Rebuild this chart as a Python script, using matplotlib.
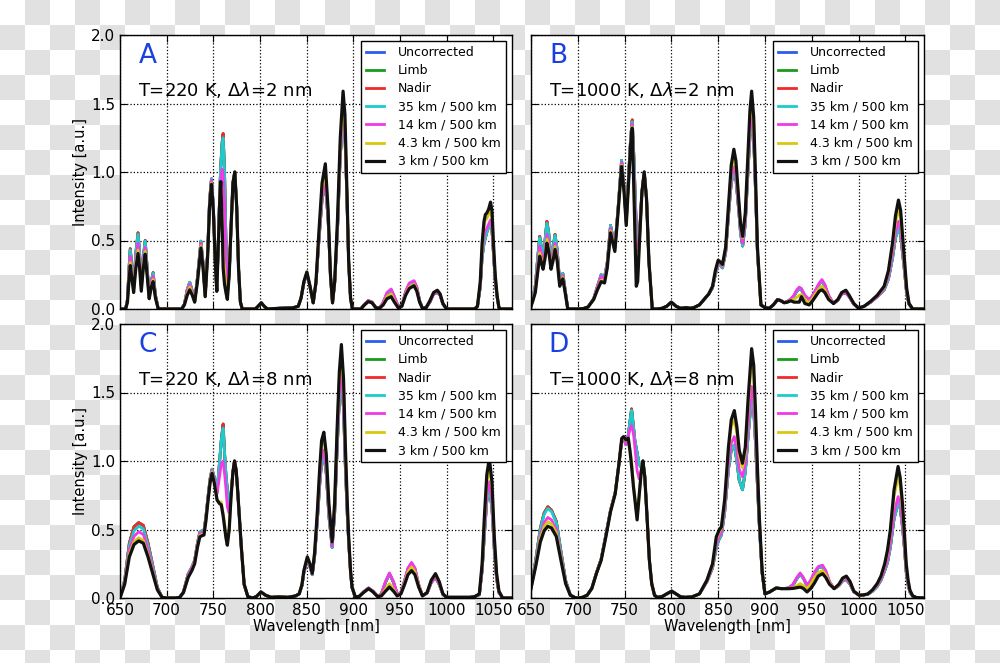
import numpy as np
import matplotlib
matplotlib.use("Agg")
import matplotlib.pyplot as plt

# ---------------- panel A : T=220 K, dl=2 nm ----------------
wl_a = [650, 656, 658, 659.5, 661, 662.8, 664.6, 667, 669.3, 671, 672.8, 675, 677, 679, 681.3, 683.5, 685.5, 688, 691,
        716, 719, 722, 724.7, 727.5, 730, 733, 736.7, 739, 741.3, 744, 746, 748, 750, 752, 753.7, 755.5, 757, 758,
        759.5, 760.5, 762, 763.5, 765, 767, 769, 771, 773, 775, 777, 779, 781,
        795, 798, 801.4, 804.5, 808, 820, 835,
        841, 844, 847, 850.2, 853.5, 857, 860, 863, 866.5, 870, 873, 875.5, 877.7, 880, 883, 886, 889, 891, 893, 895, 897, 899,
        908, 912, 916, 920, 924, 928, 932, 936, 940.5, 944, 948, 952, 956, 960, 965, 968, 971, 974, 978, 982, 986, 990, 993, 996, 1000,
        1030, 1033, 1036, 1038, 1040, 1041.5, 1043, 1045, 1047, 1048.5, 1050, 1052, 1054, 1056, 1058, 1070]
km3_a = [0, 0, 0.05, 0.2, 0.317, 0.22, 0.12, 0.3, 0.405, 0.3, 0.13, 0.3, 0.40, 0.25, 0.075, 0.16, 0.20, 0.08, 0,
         0, 0.03, 0.1, 0.14, 0.1, 0.05, 0.2, 0.445, 0.3, 0.09, 0.4, 0.75, 0.91, 0.72, 0.35, 0.13, 0.5, 0.82, 0.93,
         0.6, 0.3, 0.18, 0.12, 0.07, 0.25, 0.6, 0.92, 1.0, 0.75, 0.3, 0.05, 0,
         0, 0.02, 0.045, 0.02, 0, 0.005, 0.008,
         0.02, 0.08, 0.2, 0.27, 0.17, 0.045, 0.2, 0.55, 0.92, 1.06, 0.72, 0.25, 0.045, 0.2, 0.65, 1.25, 1.59, 1.42, 0.9, 0.35, 0.08, 0,
         0, 0.03, 0.054, 0.045, 0.01, 0.005, 0.03, 0.075, 0.09, 0.05, 0.01, 0.02, 0.1, 0.15, 0.17, 0.13, 0.05, 0.005, 0.01, 0.06, 0.12, 0.137, 0.11, 0.04, 0,
         0, 0.02, 0.2, 0.48, 0.64, 0.69, 0.7, 0.73, 0.78, 0.72, 0.5, 0.25, 0.1, 0.01, 0, 0]
km43_a = [0, 0, 0.05, 0.22, 0.34, 0.24, 0.13, 0.33, 0.43, 0.33, 0.14, 0.32, 0.42, 0.26, 0.08, 0.17, 0.215, 0.085, 0,
          0, 0.03, 0.11, 0.16, 0.11, 0.05, 0.21, 0.46, 0.31, 0.09, 0.41, 0.76, 0.92, 0.73, 0.35, 0.13, 0.5, 0.83, 0.92,
          0.6, 0.4, 0.28, 0.15, 0.08, 0.25, 0.6, 0.92, 1.0, 0.75, 0.3, 0.05, 0,
          0, 0.02, 0.045, 0.02, 0, 0.005, 0.008,
          0.02, 0.08, 0.2, 0.27, 0.17, 0.045, 0.2, 0.53, 0.88, 1.0, 0.7, 0.25, 0.045, 0.2, 0.62, 1.2, 1.5, 1.36, 0.88, 0.35, 0.08, 0,
          0, 0.03, 0.056, 0.045, 0.01, 0.005, 0.035, 0.09, 0.11, 0.06, 0.012, 0.02, 0.11, 0.16, 0.18, 0.14, 0.05, 0.005, 0.01, 0.06, 0.12, 0.135, 0.11, 0.04, 0,
          0, 0.02, 0.19, 0.45, 0.6, 0.65, 0.66, 0.69, 0.72, 0.67, 0.47, 0.24, 0.1, 0.01, 0, 0]
km14_a = [0, 0, 0.06, 0.25, 0.385, 0.27, 0.14, 0.36, 0.48, 0.36, 0.15, 0.35, 0.45, 0.28, 0.08, 0.19, 0.24, 0.095, 0,
          0, 0.035, 0.13, 0.18, 0.12, 0.055, 0.22, 0.48, 0.32, 0.095, 0.42, 0.78, 0.94, 0.74, 0.36, 0.13, 0.52, 0.85, 0.95,
          1.02, 0.98, 0.75, 0.4, 0.12, 0.25, 0.6, 0.92, 1.0, 0.75, 0.3, 0.05, 0,
          0, 0.02, 0.045, 0.02, 0, 0.005, 0.008,
          0.02, 0.08, 0.19, 0.26, 0.165, 0.045, 0.19, 0.5, 0.82, 0.93, 0.66, 0.24, 0.045, 0.19, 0.58, 1.15, 1.42, 1.3, 0.85, 0.34, 0.08, 0,
          0, 0.035, 0.063, 0.05, 0.012, 0.006, 0.05, 0.12, 0.146, 0.09, 0.02, 0.025, 0.13, 0.19, 0.207, 0.16, 0.06, 0.006, 0.01, 0.05, 0.11, 0.122, 0.1, 0.035, 0,
          0, 0.02, 0.17, 0.41, 0.53, 0.57, 0.59, 0.62, 0.65, 0.6, 0.43, 0.22, 0.09, 0.01, 0, 0]
km35_a = [0, 0, 0.07, 0.28, 0.43, 0.3, 0.16, 0.41, 0.545, 0.41, 0.17, 0.38, 0.495, 0.31, 0.09, 0.2, 0.26, 0.1, 0,
          0, 0.035, 0.14, 0.195, 0.13, 0.055, 0.23, 0.495, 0.33, 0.095, 0.43, 0.8, 0.95, 0.75, 0.36, 0.13, 0.53, 0.88, 1.05,
          1.2, 1.25, 1.0, 0.5, 0.12, 0.25, 0.6, 0.92, 1.0, 0.75, 0.3, 0.05, 0,
          0, 0.02, 0.045, 0.02, 0, 0.005, 0.008,
          0.02, 0.08, 0.19, 0.26, 0.165, 0.045, 0.19, 0.49, 0.8, 0.92, 0.65, 0.24, 0.045, 0.19, 0.57, 1.12, 1.38, 1.27, 0.84, 0.34, 0.08, 0,
          0, 0.035, 0.06, 0.05, 0.012, 0.006, 0.045, 0.11, 0.14, 0.085, 0.02, 0.025, 0.12, 0.18, 0.2, 0.155, 0.06, 0.006, 0.01, 0.05, 0.11, 0.12, 0.1, 0.035, 0,
          0, 0.02, 0.16, 0.38, 0.48, 0.52, 0.56, 0.6, 0.62, 0.58, 0.42, 0.21, 0.09, 0.01, 0, 0]
nadir_a = [0, 0, 0.07, 0.28, 0.44, 0.3, 0.16, 0.41, 0.556, 0.41, 0.17, 0.38, 0.5, 0.31, 0.09, 0.2, 0.265, 0.1, 0,
           0, 0.035, 0.14, 0.195, 0.13, 0.055, 0.23, 0.495, 0.33, 0.095, 0.43, 0.8, 0.95, 0.75, 0.36, 0.13, 0.53, 0.88, 1.05,
           1.22, 1.28, 1.0, 0.5, 0.12, 0.25, 0.6, 0.92, 1.0, 0.75, 0.3, 0.05, 0,
           0, 0.02, 0.045, 0.02, 0, 0.005, 0.008,
           0.02, 0.08, 0.19, 0.26, 0.165, 0.045, 0.19, 0.49, 0.8, 0.92, 0.65, 0.24, 0.045, 0.19, 0.57, 1.12, 1.38, 1.27, 0.84, 0.34, 0.08, 0,
           0, 0.035, 0.06, 0.05, 0.012, 0.006, 0.045, 0.11, 0.14, 0.085, 0.02, 0.025, 0.12, 0.18, 0.2, 0.155, 0.06, 0.006, 0.01, 0.05, 0.11, 0.12, 0.1, 0.035, 0,
           0, 0.02, 0.16, 0.38, 0.48, 0.52, 0.56, 0.6, 0.62, 0.58, 0.42, 0.21, 0.09, 0.01, 0, 0]

# ---------------- panel B : T=1000 K, dl=2 nm ----------------
wl_b = [650, 652, 654.6, 657, 659.3, 661, 662.9, 665, 667, 669, 671.4, 673.5, 675.7, 678, 680.7, 684, 686.5, 689.3,
        700, 706, 711, 717, 721, 725, 728.6, 731.5, 735, 739.6, 743, 746.8, 749.5, 751.8, 754.5, 756.5, 758.2, 760,
        762.5, 764, 766, 768.5, 771, 773.5, 776, 779.6,
        785, 790, 795, 800, 805, 810, 816, 820,
        824, 830, 835, 840, 844, 847, 850, 852, 854.6, 858, 861, 864, 866.8, 869, 872, 874, 876.2, 879, 882, 884, 885.8, 888, 890, 892, 895.7, 900,
        904.6, 909, 913.5, 917, 920.6, 924, 927.8, 931, 934, 936.7, 939, 942.7, 947.3, 951, 955, 958, 960.9, 964, 968, 973.3, 978, 982, 986.5, 990, 995, 1000,
        1006, 1013, 1020, 1027.4, 1032, 1036.3, 1039.5, 1042.7, 1045, 1048.8, 1051.5, 1054, 1058, 1070]
km3_b = [0.02, 0.06, 0.12, 0.26, 0.385, 0.34, 0.29, 0.37, 0.48, 0.42, 0.29, 0.35, 0.435, 0.35, 0.166, 0.22, 0.12, 0,
         0, 0.003, 0.015, 0.07, 0.14, 0.2, 0.19, 0.3, 0.556, 0.42, 0.7, 1.04, 0.85, 0.61, 0.95, 1.2, 1.32, 0.85,
         0.166, 0.2, 0.5, 0.85, 1.0, 0.8, 0.35, 0,
         0, 0.005, 0.02, 0.05, 0.02, 0.005, 0.01, 0.005,
         0.01, 0.03, 0.07, 0.11, 0.166, 0.28, 0.356, 0.345, 0.325, 0.45, 0.75, 1.05, 1.166, 1.08, 0.8, 0.62, 0.53, 0.7, 1.15, 1.45, 1.59, 1.4, 0.95, 0.45, 0.03, 0.01,
         0.005, 0.03, 0.068, 0.06, 0.045, 0.05, 0.06, 0.05, 0.05, 0.05, 0.09, 0.04, 0.03, 0.06, 0.1, 0.13, 0.14, 0.12, 0.07, 0.04, 0.07, 0.12, 0.137, 0.1, 0.04, 0.007,
         0.02, 0.056, 0.1, 0.166, 0.28, 0.48, 0.68, 0.795, 0.72, 0.385, 0.15, 0.04, 0, 0]
km43_b = [0.02, 0.06, 0.13, 0.28, 0.41, 0.36, 0.31, 0.39, 0.51, 0.45, 0.31, 0.37, 0.455, 0.37, 0.175, 0.23, 0.125, 0,
          0, 0.003, 0.015, 0.07, 0.145, 0.21, 0.2, 0.31, 0.57, 0.43, 0.71, 1.05, 0.86, 0.62, 0.96, 1.21, 1.33, 0.9,
          0.25, 0.25, 0.5, 0.85, 1.0, 0.8, 0.35, 0,
          0, 0.005, 0.02, 0.05, 0.02, 0.005, 0.01, 0.005,
          0.01, 0.03, 0.07, 0.11, 0.165, 0.27, 0.35, 0.34, 0.32, 0.44, 0.73, 1.01, 1.12, 1.04, 0.78, 0.61, 0.52, 0.68, 1.1, 1.39, 1.52, 1.35, 0.92, 0.44, 0.03, 0.01,
          0.005, 0.03, 0.068, 0.06, 0.045, 0.05, 0.065, 0.07, 0.085, 0.1, 0.105, 0.07, 0.045, 0.08, 0.12, 0.15, 0.165, 0.14, 0.08, 0.04, 0.07, 0.12, 0.135, 0.1, 0.04, 0.007,
          0.02, 0.055, 0.1, 0.16, 0.27, 0.45, 0.63, 0.727, 0.66, 0.36, 0.14, 0.04, 0, 0]
km14_b = [0.02, 0.07, 0.15, 0.32, 0.46, 0.4, 0.33, 0.43, 0.545, 0.49, 0.33, 0.4, 0.48, 0.4, 0.18, 0.245, 0.13, 0,
          0, 0.003, 0.015, 0.075, 0.16, 0.24, 0.22, 0.33, 0.59, 0.44, 0.72, 1.07, 0.87, 0.63, 0.98, 1.23, 1.35, 1.0,
          0.5, 0.42, 0.52, 0.85, 1.0, 0.8, 0.35, 0,
          0, 0.005, 0.02, 0.05, 0.02, 0.005, 0.01, 0.005,
          0.01, 0.03, 0.07, 0.11, 0.16, 0.26, 0.33, 0.33, 0.31, 0.42, 0.7, 0.95, 1.04, 0.98, 0.74, 0.58, 0.48, 0.64, 1.05, 1.3, 1.42, 1.27, 0.87, 0.42, 0.03, 0.01,
          0.005, 0.03, 0.07, 0.062, 0.047, 0.055, 0.075, 0.1, 0.14, 0.16, 0.15, 0.1, 0.07, 0.1, 0.15, 0.19, 0.215, 0.18, 0.1, 0.04, 0.065, 0.11, 0.117, 0.09, 0.035, 0.007,
          0.02, 0.05, 0.09, 0.15, 0.24, 0.4, 0.56, 0.64, 0.58, 0.32, 0.12, 0.035, 0, 0]
km35_b = [0.02, 0.08, 0.17, 0.36, 0.52, 0.45, 0.36, 0.5, 0.625, 0.55, 0.36, 0.44, 0.537, 0.43, 0.19, 0.26, 0.14, 0,
          0, 0.003, 0.015, 0.075, 0.165, 0.25, 0.23, 0.34, 0.61, 0.45, 0.73, 1.085, 0.88, 0.64, 1.0, 1.25, 1.366, 1.1,
          0.6, 0.45, 0.55, 0.85, 1.0, 0.8, 0.35, 0,
          0, 0.005, 0.02, 0.05, 0.02, 0.005, 0.01, 0.005,
          0.01, 0.03, 0.07, 0.11, 0.155, 0.25, 0.32, 0.32, 0.3, 0.41, 0.68, 0.92, 1.0, 0.95, 0.72, 0.55, 0.46, 0.62, 1.02, 1.26, 1.38, 1.24, 0.85, 0.41, 0.03, 0.01,
          0.005, 0.03, 0.07, 0.062, 0.047, 0.055, 0.072, 0.095, 0.13, 0.15, 0.14, 0.095, 0.065, 0.095, 0.145, 0.18, 0.205, 0.17, 0.095, 0.04, 0.065, 0.11, 0.117, 0.09, 0.035, 0.007,
          0.02, 0.05, 0.09, 0.14, 0.22, 0.37, 0.52, 0.59, 0.54, 0.3, 0.11, 0.035, 0, 0]
nadir_b = [0.02, 0.08, 0.17, 0.36, 0.53, 0.45, 0.36, 0.5, 0.64, 0.55, 0.36, 0.44, 0.545, 0.43, 0.19, 0.26, 0.14, 0,
           0, 0.003, 0.015, 0.075, 0.165, 0.25, 0.23, 0.34, 0.61, 0.45, 0.73, 1.085, 0.88, 0.64, 1.0, 1.25, 1.38, 1.1,
           0.6, 0.45, 0.55, 0.85, 1.0, 0.8, 0.35, 0,
           0, 0.005, 0.02, 0.05, 0.02, 0.005, 0.01, 0.005,
           0.01, 0.03, 0.07, 0.11, 0.155, 0.25, 0.32, 0.32, 0.3, 0.41, 0.68, 0.92, 1.0, 0.95, 0.72, 0.55, 0.46, 0.62, 1.02, 1.26, 1.38, 1.24, 0.85, 0.41, 0.03, 0.01,
           0.005, 0.03, 0.07, 0.062, 0.047, 0.055, 0.072, 0.095, 0.13, 0.15, 0.14, 0.095, 0.065, 0.095, 0.145, 0.18, 0.205, 0.17, 0.095, 0.04, 0.065, 0.11, 0.117, 0.09, 0.035, 0.007,
           0.02, 0.05, 0.09, 0.14, 0.22, 0.37, 0.52, 0.59, 0.54, 0.3, 0.11, 0.035, 0, 0]

# ---------------- panel C : T=220 K, dl=8 nm ----------------
wl_c = [650, 655, 660, 665, 670, 675, 680, 685, 690, 695, 700,
        710, 714, 718, 723, 727, 730, 733, 735.5, 738, 740, 742, 744, 746.5, 748.6, 751, 754, 756.5, 758.5, 760.5, 762,
        763.5, 765, 767, 769, 771, 772.7, 774.5, 776, 778, 780, 783, 787, 792,
        796, 801, 806, 812, 820, 830, 838,
        842, 845, 847, 850.7, 853.5, 856, 858.5, 861.3, 864, 866, 868.4, 871, 873.8, 877.3, 880, 882.6, 885, 887.2, 889.5, 891.5, 893.5, 895, 897, 898.6, 902,
        906, 911, 916.3, 921, 926, 930, 934.5, 938.7, 943, 947, 951, 955, 958.5, 962.4, 966, 970, 974, 979, 983.5, 988, 992, 996, 1000,
        1025, 1030, 1035, 1038, 1040.4, 1043, 1045.7, 1048.5, 1051, 1053.5, 1056, 1060, 1070]
km3_c = [0, 0.1, 0.3, 0.39, 0.417, 0.40, 0.3, 0.18, 0.06, 0.005, 0,
         0, 0.005, 0.04, 0.15, 0.2, 0.25, 0.37, 0.446, 0.455, 0.46, 0.56, 0.69, 0.84, 0.91, 0.84, 0.715, 0.69, 0.68, 0.6, 0.52,
         0.44, 0.385, 0.5, 0.74, 0.92, 1.0, 0.93, 0.79, 0.58, 0.37, 0.1, 0.01, 0,
         0.01, 0.044, 0.02, 0.005, 0.008, 0.005, 0.015,
         0.03, 0.1, 0.2, 0.3, 0.25, 0.18, 0.33, 0.617, 0.95, 1.15, 1.21, 1.05, 0.69, 0.41, 0.7, 1.23, 1.65, 1.85, 1.6, 1.1, 0.7, 0.45, 0.2, 0.08, 0.01,
         0.01, 0.04, 0.068, 0.045, 0.01, 0.015, 0.05, 0.08, 0.05, 0.015, 0.03, 0.1, 0.17, 0.2, 0.17, 0.08, 0.015, 0.04, 0.13, 0.178, 0.12, 0.03, 0.005,
         0.005, 0.01, 0.03, 0.25, 0.59, 0.9, 1.02, 0.85, 0.45, 0.18, 0.05, 0, 0]
km43_c = [0, 0.105, 0.32, 0.41, 0.44, 0.42, 0.315, 0.19, 0.065, 0.005, 0,
          0, 0.005, 0.04, 0.155, 0.205, 0.26, 0.38, 0.455, 0.465, 0.47, 0.57, 0.7, 0.85, 0.92, 0.85, 0.72, 0.7, 0.7, 0.62, 0.55,
          0.46, 0.39, 0.5, 0.74, 0.92, 1.0, 0.93, 0.79, 0.58, 0.37, 0.1, 0.01, 0,
          0.01, 0.044, 0.02, 0.005, 0.008, 0.005, 0.015,
          0.03, 0.1, 0.2, 0.295, 0.245, 0.18, 0.33, 0.61, 0.93, 1.12, 1.18, 1.02, 0.68, 0.41, 0.69, 1.2, 1.6, 1.78, 1.55, 1.07, 0.68, 0.44, 0.2, 0.08, 0.01,
          0.01, 0.04, 0.07, 0.046, 0.01, 0.018, 0.065, 0.105, 0.065, 0.018, 0.035, 0.11, 0.19, 0.227, 0.19, 0.09, 0.016, 0.04, 0.13, 0.172, 0.115, 0.03, 0.005,
          0.005, 0.01, 0.03, 0.24, 0.56, 0.85, 0.96, 0.8, 0.43, 0.17, 0.05, 0, 0]
km14_c = [0, 0.115, 0.35, 0.45, 0.483, 0.465, 0.35, 0.21, 0.07, 0.006, 0,
          0, 0.006, 0.045, 0.17, 0.22, 0.27, 0.39, 0.47, 0.48, 0.485, 0.58, 0.71, 0.86, 0.93, 0.87, 0.76, 0.88, 0.98, 1.0, 0.91,
          0.8, 0.666, 0.62, 0.76, 0.92, 1.0, 0.93, 0.79, 0.58, 0.37, 0.1, 0.01, 0,
          0.01, 0.044, 0.02, 0.005, 0.008, 0.005, 0.015,
          0.03, 0.095, 0.19, 0.28, 0.235, 0.175, 0.31, 0.57, 0.86, 1.03, 1.08, 0.94, 0.63, 0.38, 0.64, 1.12, 1.5, 1.65, 1.42, 0.98, 0.63, 0.42, 0.19, 0.075, 0.01,
          0.01, 0.045, 0.075, 0.05, 0.012, 0.03, 0.12, 0.183, 0.12, 0.03, 0.04, 0.13, 0.22, 0.26, 0.22, 0.1, 0.018, 0.035, 0.115, 0.154, 0.1, 0.025, 0.005,
          0.005, 0.01, 0.025, 0.21, 0.49, 0.75, 0.85, 0.7, 0.38, 0.15, 0.04, 0, 0]
km35_c = [0, 0.125, 0.38, 0.49, 0.524, 0.505, 0.38, 0.23, 0.075, 0.006, 0,
          0, 0.006, 0.045, 0.175, 0.225, 0.275, 0.4, 0.48, 0.49, 0.49, 0.59, 0.72, 0.87, 0.94, 0.88, 0.775, 0.98, 1.15, 1.24, 1.06,
          0.9, 0.79, 0.66, 0.76, 0.92, 1.0, 0.93, 0.79, 0.58, 0.37, 0.1, 0.01, 0,
          0.01, 0.044, 0.02, 0.005, 0.008, 0.005, 0.015,
          0.03, 0.09, 0.185, 0.275, 0.23, 0.17, 0.3, 0.55, 0.83, 0.99, 1.05, 0.91, 0.6, 0.37, 0.62, 1.08, 1.45, 1.6, 1.38, 0.95, 0.61, 0.41, 0.19, 0.075, 0.01,
          0.01, 0.045, 0.072, 0.05, 0.012, 0.028, 0.115, 0.175, 0.115, 0.028, 0.038, 0.125, 0.21, 0.25, 0.21, 0.095, 0.018, 0.035, 0.113, 0.15, 0.1, 0.025, 0.005,
          0.005, 0.01, 0.024, 0.2, 0.46, 0.71, 0.8, 0.66, 0.36, 0.14, 0.04, 0, 0]
nadir_c = [0, 0.13, 0.4, 0.52, 0.55, 0.53, 0.4, 0.24, 0.078, 0.006, 0,
           0, 0.006, 0.045, 0.175, 0.225, 0.275, 0.4, 0.48, 0.49, 0.49, 0.59, 0.72, 0.87, 0.94, 0.88, 0.775, 0.98, 1.15, 1.27, 1.06,
           0.9, 0.79, 0.66, 0.76, 0.92, 1.0, 0.93, 0.79, 0.58, 0.37, 0.1, 0.01, 0,
           0.01, 0.044, 0.02, 0.005, 0.008, 0.005, 0.015,
           0.03, 0.09, 0.185, 0.275, 0.23, 0.17, 0.3, 0.55, 0.83, 0.99, 1.05, 0.91, 0.6, 0.37, 0.62, 1.08, 1.45, 1.6, 1.38, 0.95, 0.61, 0.41, 0.19, 0.075, 0.01,
           0.01, 0.045, 0.072, 0.05, 0.012, 0.028, 0.115, 0.175, 0.115, 0.028, 0.038, 0.125, 0.21, 0.25, 0.21, 0.095, 0.018, 0.035, 0.113, 0.15, 0.1, 0.025, 0.005,
           0.005, 0.01, 0.024, 0.2, 0.46, 0.71, 0.8, 0.66, 0.36, 0.14, 0.04, 0, 0]

# ---------------- panel D : T=1000 K, dl=8 nm ----------------
wl_d = [650, 655, 660, 664, 668, 672, 677, 682, 687, 692, 697, 700,
        705, 710, 715, 720, 725, 730, 735, 740, 744, 747, 749, 751.5, 754, 756, 757.5, 759.5, 761, 763.4, 765.5, 768,
        769.6, 771.6, 774, 776.5, 779, 782, 785,
        790, 795, 800.4, 805, 810, 815, 822,
        830, 838, 844, 848, 851, 853.5, 857, 861, 864, 867.3, 870, 872.5, 876, 879, 882, 885.8, 888, 890, 892, 894, 897, 900,
        905, 912, 918, 925, 930, 934, 937.7, 941, 945, 949, 953, 957, 961.6, 965, 969, 974, 979, 983, 987, 991, 995, 1000.7,
        1005, 1010, 1015, 1020, 1024, 1028, 1031, 1034, 1038, 1042.3, 1044.5, 1047, 1049, 1051, 1053, 1055, 1058, 1062, 1070]
km3_d = [0.07, 0.23, 0.41, 0.49, 0.524, 0.51, 0.45, 0.275, 0.105, 0.02, 0.003, 0,
         0.005, 0.02, 0.07, 0.18, 0.275, 0.446, 0.63, 0.76, 0.98, 1.166, 1.178, 1.154, 1.166, 1.06, 0.96, 0.81, 0.72, 0.57, 0.74, 0.934,
         1.0, 0.885, 0.593, 0.276, 0.105, 0.02, 0.005,
         0.01, 0.03, 0.05, 0.03, 0.008, 0.005, 0.008,
         0.03, 0.13, 0.25, 0.446, 0.495, 0.52, 0.72, 1.1, 1.3, 1.368, 1.25, 1.08, 0.983, 1.1, 1.45, 1.82, 1.7, 1.35, 0.95, 0.59, 0.2, 0.03,
         0.044, 0.073, 0.068, 0.068, 0.07, 0.075, 0.08, 0.07, 0.044, 0.07, 0.11, 0.16, 0.178, 0.15, 0.1, 0.068, 0.1, 0.145, 0.16, 0.12, 0.05, 0.02,
         0.022, 0.03, 0.06, 0.105, 0.16, 0.25, 0.35, 0.495, 0.79, 0.96, 0.88, 0.69, 0.48, 0.25, 0.13, 0.056, 0.015, 0.003, 0]
km43_d = [0.07, 0.24, 0.435, 0.52, 0.556, 0.54, 0.475, 0.29, 0.11, 0.02, 0.003, 0,
          0.005, 0.02, 0.07, 0.18, 0.28, 0.45, 0.635, 0.765, 0.98, 1.16, 1.17, 1.15, 1.16, 1.08, 1.0, 0.83, 0.74, 0.58, 0.74, 0.934,
          1.0, 0.885, 0.593, 0.276, 0.105, 0.02, 0.005,
          0.01, 0.03, 0.05, 0.03, 0.008, 0.005, 0.008,
          0.03, 0.13, 0.24, 0.43, 0.48, 0.51, 0.7, 1.07, 1.25, 1.3, 1.2, 1.04, 0.95, 1.06, 1.39, 1.74, 1.63, 1.3, 0.92, 0.58, 0.2, 0.03,
          0.044, 0.073, 0.068, 0.07, 0.075, 0.09, 0.105, 0.09, 0.07, 0.1, 0.15, 0.185, 0.2, 0.17, 0.11, 0.068, 0.095, 0.14, 0.155, 0.115, 0.05, 0.02,
          0.022, 0.03, 0.058, 0.1, 0.155, 0.24, 0.33, 0.47, 0.74, 0.885, 0.82, 0.64, 0.45, 0.235, 0.12, 0.052, 0.014, 0.003, 0]
km14_d = [0.07, 0.25, 0.46, 0.55, 0.588, 0.57, 0.5, 0.305, 0.115, 0.022, 0.003, 0,
          0.005, 0.02, 0.07, 0.185, 0.285, 0.46, 0.64, 0.77, 0.98, 1.15, 1.16, 1.12, 1.18, 1.24, 1.26, 1.2, 1.1, 0.93, 0.87, 0.934,
          1.0, 0.885, 0.593, 0.276, 0.105, 0.02, 0.005,
          0.01, 0.03, 0.05, 0.03, 0.008, 0.005, 0.008,
          0.03, 0.12, 0.23, 0.39, 0.45, 0.48, 0.66, 0.98, 1.13, 1.178, 1.08, 0.94, 0.885, 0.98, 1.25, 1.544, 1.45, 1.18, 0.85, 0.55, 0.19, 0.03,
          0.044, 0.073, 0.068, 0.072, 0.1, 0.15, 0.183, 0.15, 0.093, 0.13, 0.19, 0.23, 0.24, 0.2, 0.12, 0.068, 0.09, 0.13, 0.14, 0.105, 0.045, 0.02,
          0.022, 0.028, 0.055, 0.09, 0.14, 0.21, 0.28, 0.4, 0.62, 0.74, 0.7, 0.55, 0.39, 0.2, 0.1, 0.045, 0.012, 0.003, 0]
km35_d = [0.07, 0.27, 0.5, 0.61, 0.654, 0.63, 0.55, 0.335, 0.125, 0.024, 0.003, 0,
          0.005, 0.02, 0.07, 0.185, 0.285, 0.46, 0.64, 0.77, 0.98, 1.15, 1.16, 1.12, 1.19, 1.3, 1.37, 1.25, 1.15, 1.06, 0.98, 0.95,
          1.0, 0.885, 0.593, 0.276, 0.105, 0.02, 0.005,
          0.01, 0.03, 0.05, 0.03, 0.008, 0.005, 0.008,
          0.03, 0.12, 0.22, 0.37, 0.43, 0.46, 0.63, 0.94, 1.08, 1.117, 1.0, 0.86, 0.79, 0.92, 1.18, 1.47, 1.38, 1.12, 0.82, 0.53, 0.18, 0.03,
          0.044, 0.073, 0.068, 0.072, 0.095, 0.14, 0.175, 0.145, 0.09, 0.125, 0.18, 0.22, 0.23, 0.19, 0.115, 0.068, 0.09, 0.125, 0.135, 0.1, 0.045, 0.02,
          0.022, 0.027, 0.05, 0.085, 0.13, 0.2, 0.26, 0.37, 0.58, 0.69, 0.66, 0.52, 0.37, 0.19, 0.095, 0.042, 0.011, 0.003, 0]
nadir_d = [0.07, 0.275, 0.51, 0.62, 0.666, 0.64, 0.56, 0.34, 0.127, 0.024, 0.003, 0,
           0.005, 0.02, 0.07, 0.185, 0.285, 0.46, 0.64, 0.77, 0.98, 1.15, 1.16, 1.12, 1.19, 1.3, 1.38, 1.25, 1.15, 1.06, 0.98, 0.95,
           1.0, 0.885, 0.593, 0.276, 0.105, 0.02, 0.005,
           0.01, 0.03, 0.05, 0.03, 0.008, 0.005, 0.008,
           0.03, 0.12, 0.22, 0.37, 0.43, 0.46, 0.63, 0.94, 1.08, 1.117, 1.0, 0.86, 0.79, 0.92, 1.18, 1.47, 1.38, 1.12, 0.82, 0.53, 0.18, 0.03,
           0.044, 0.073, 0.068, 0.072, 0.095, 0.14, 0.175, 0.145, 0.09, 0.125, 0.18, 0.22, 0.23, 0.19, 0.115, 0.068, 0.09, 0.125, 0.135, 0.1, 0.045, 0.02,
           0.022, 0.027, 0.05, 0.085, 0.13, 0.2, 0.26, 0.37, 0.58, 0.69, 0.66, 0.52, 0.37, 0.19, 0.095, 0.042, 0.011, 0.003, 0]

labels = ["Uncorrected", "Limb", "Nadir", "35 km / 500 km", "14 km / 500 km",
          "4.3 km / 500 km", "3 km / 500 km"]
colors = ["#2a5cf0", "#1a9a1a", "#f02a2a", "#1ccccc", "#f03ae6", "#d8c810", "#111111"]
letters = ["A", "B", "C", "D"]
notes = [r"T=220 K, $\Delta\lambda$=2 nm", r"T=1000 K, $\Delta\lambda$=2 nm",
         r"T=220 K, $\Delta\lambda$=8 nm", r"T=1000 K, $\Delta\lambda$=8 nm"]
xticks = [650, 700, 750, 800, 850, 900, 950, 1000, 1050]
yticks = [0.0, 0.5, 1.0, 1.5, 2.0]

# Uncorrected and Limb are indistinguishable from Nadir in the figure
panels = [
    (wl_a, [nadir_a, nadir_a, nadir_a, km35_a, km14_a, km43_a, km3_a]),
    (wl_b, [nadir_b, nadir_b, nadir_b, km35_b, km14_b, km43_b, km3_b]),
    (wl_c, [nadir_c, nadir_c, nadir_c, km35_c, km14_c, km43_c, km3_c]),
    (wl_d, [nadir_d, nadir_d, nadir_d, km35_d, km14_d, km43_d, km3_d]),
]
for wl, ser in panels:
    for s in ser:
        assert len(s) == len(wl), (len(s), len(wl))

W, H = 1000, 663
fig = plt.figure(figsize=(W / 100, H / 100), dpi=100)

# transparent-png checkerboard behind the figure
bg = fig.add_axes([0, 0, 1, 1], zorder=-10)
ny, nx = int(np.ceil(H / 25)), int(np.ceil(W / 25))
board = np.indices((ny, nx)).sum(axis=0) % 2
bg.imshow(np.where(board == 1, 0.88, 1.0), cmap="gray", vmin=0, vmax=1,
          extent=(0, nx * 25, ny * 25, 0), interpolation="nearest", aspect="auto")
bg.set_xlim(0, W)
bg.set_ylim(H, 0)
bg.axis("off")

# axes boxes in pixels: left, right, top, bottom
boxes = [(120, 512, 35, 309), (531, 924, 35, 309),
         (120, 512, 324, 598), (531, 924, 324, 598)]

for i, ((wl, ser), (l, r, t, b)) in enumerate(zip(panels, boxes)):
    ax = fig.add_axes([l / W, 1 - b / H, (r - l) / W, (b - t) / H])
    ax.set_facecolor("white")
    handles = []
    for s, c, lab in zip(ser, colors, labels):
        lw = 2.3 if c == "#111111" else 2
        h, = ax.plot(wl, s, color=c, lw=lw, label=lab)
        handles.append(h)
    ax.set_xlim(650, 1070)
    ax.set_ylim(0, 2)
    ax.set_xticks(xticks)
    ax.set_yticks(yticks)
    ax.grid(True, color="black", linestyle=":", linewidth=0.9)
    ax.tick_params(direction="in", top=True, right=True, length=5, labelsize=11)
    if i % 2 == 0:
        ax.set_yticklabels([f"{v:.1f}" for v in yticks])
        ax.set_ylabel("Intensity [a.u.]", fontsize=10.5, labelpad=2)
    else:
        ax.set_yticklabels([])
    if i >= 2:
        ax.set_xlabel("Wavelength [nm]", fontsize=10.5, labelpad=1)
    else:
        ax.set_xticklabels([])
    for sp in ax.spines.values():
        sp.set_linewidth(1.0)
    ax.text(0.071, 0.925, letters[i], transform=ax.transAxes, fontsize=19,
            color="#1a40e0", ha="center", va="center")
    ax.text(0.046, 0.80, notes[i], transform=ax.transAxes, fontsize=13,
            ha="left", va="center")
    leg = ax.legend(handles=handles, loc="upper right", fontsize=9, frameon=True,
                    fancybox=False, edgecolor="black", framealpha=1,
                    borderpad=0.4, labelspacing=0.41, handlelength=1.45,
                    handletextpad=1.1, borderaxespad=0.5)
    leg.get_frame().set_linewidth(1.0)

fig.savefig("out.png", dpi=100)
